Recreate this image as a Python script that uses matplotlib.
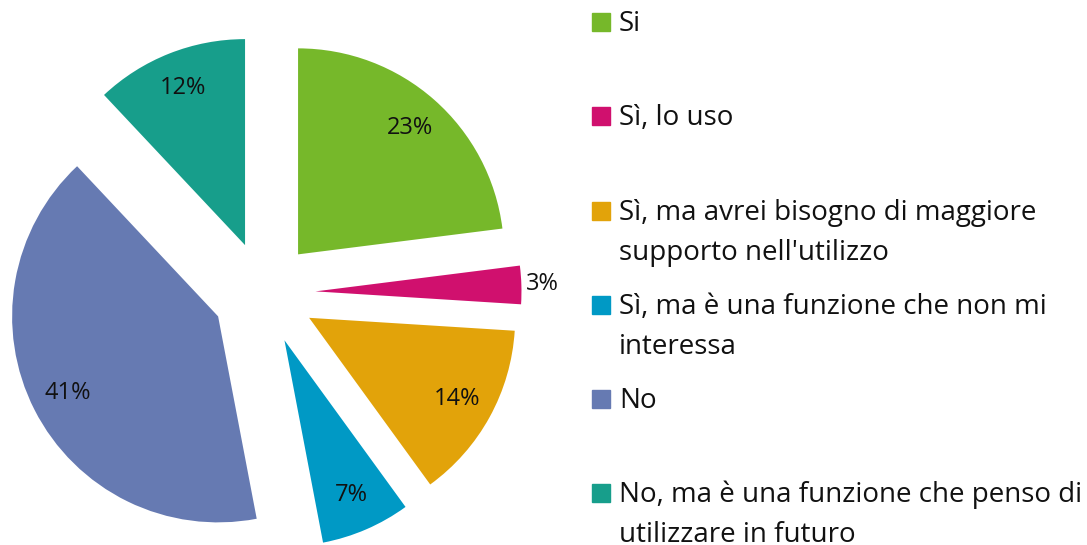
import matplotlib.pyplot as plt
import numpy as np
from matplotlib.patches import Rectangle

plt.rcParams['font.family'] = ['Open Sans', 'DejaVu Sans']

# survey answers, clockwise from 12 o'clock
labels = ["Si",
          "Sì, lo uso",
          "Sì, ma avrei bisogno di maggiore\nsupporto nell'utilizzo",
          "Sì, ma è una funzione che non mi\ninteressa",
          "No",
          "No, ma è una funzione che penso di\nutilizzare in futuro"]
values = [23, 3, 14, 7, 41, 12]
colors = ['#76b82a', '#d0106e', '#e2a30a', '#0099c5', '#667ab2', '#179e8b']

W, H = 1087, 545
fig = plt.figure(figsize=(W / 100, H / 100), dpi=100)

# square axes, pie radius 206 px centred at (264, 293) from top-left
side = 528
lim = side / (2 * 206)
ax = fig.add_axes([0, (H - 293 - side / 2) / H, side / W, side / H])

wedges, texts, autotexts = ax.pie(
    values, colors=colors, startangle=90, counterclock=False,
    explode=[0.25] * len(values), autopct='%.0f%%', pctdistance=0.82,
    textprops={'fontsize': 17, 'color': '#111111'},
    wedgeprops={'linewidth': 0})
for w in wedges:
    w.set_clip_on(False)

# the thin slice keeps its label outside
w = wedges[1]
mid = np.deg2rad((w.theta1 + w.theta2) / 2)
autotexts[1].set_position((w.center[0] + 1.1 * np.cos(mid), w.center[1] + 1.1 * np.sin(mid)))
autotexts[1].set_clip_on(False)

ax.set_xlim(-lim, lim)
ax.set_ylim(-lim, lim)
ax.set_aspect('equal')
ax.axis('off')

# legend drawn by hand: marker aligned to first line of each label
top0, step, line_gap = 13.2, 94.2, 40
for i, (lab, col) in enumerate(zip(labels, colors)):
    top = top0 + step * i
    base = top + 18
    fig.patches.append(Rectangle((592 / W, 1 - base / H), 18 / W, 18 / H,
                                 transform=fig.transFigure, color=col))
    for j, line in enumerate(lab.split('\n')):
        fig.text(619 / W, 1 - (base + j * line_gap) / H, line,
                 fontsize=20, va='baseline', ha='left', color='#111111')

plt.savefig('out.png', dpi=100)
